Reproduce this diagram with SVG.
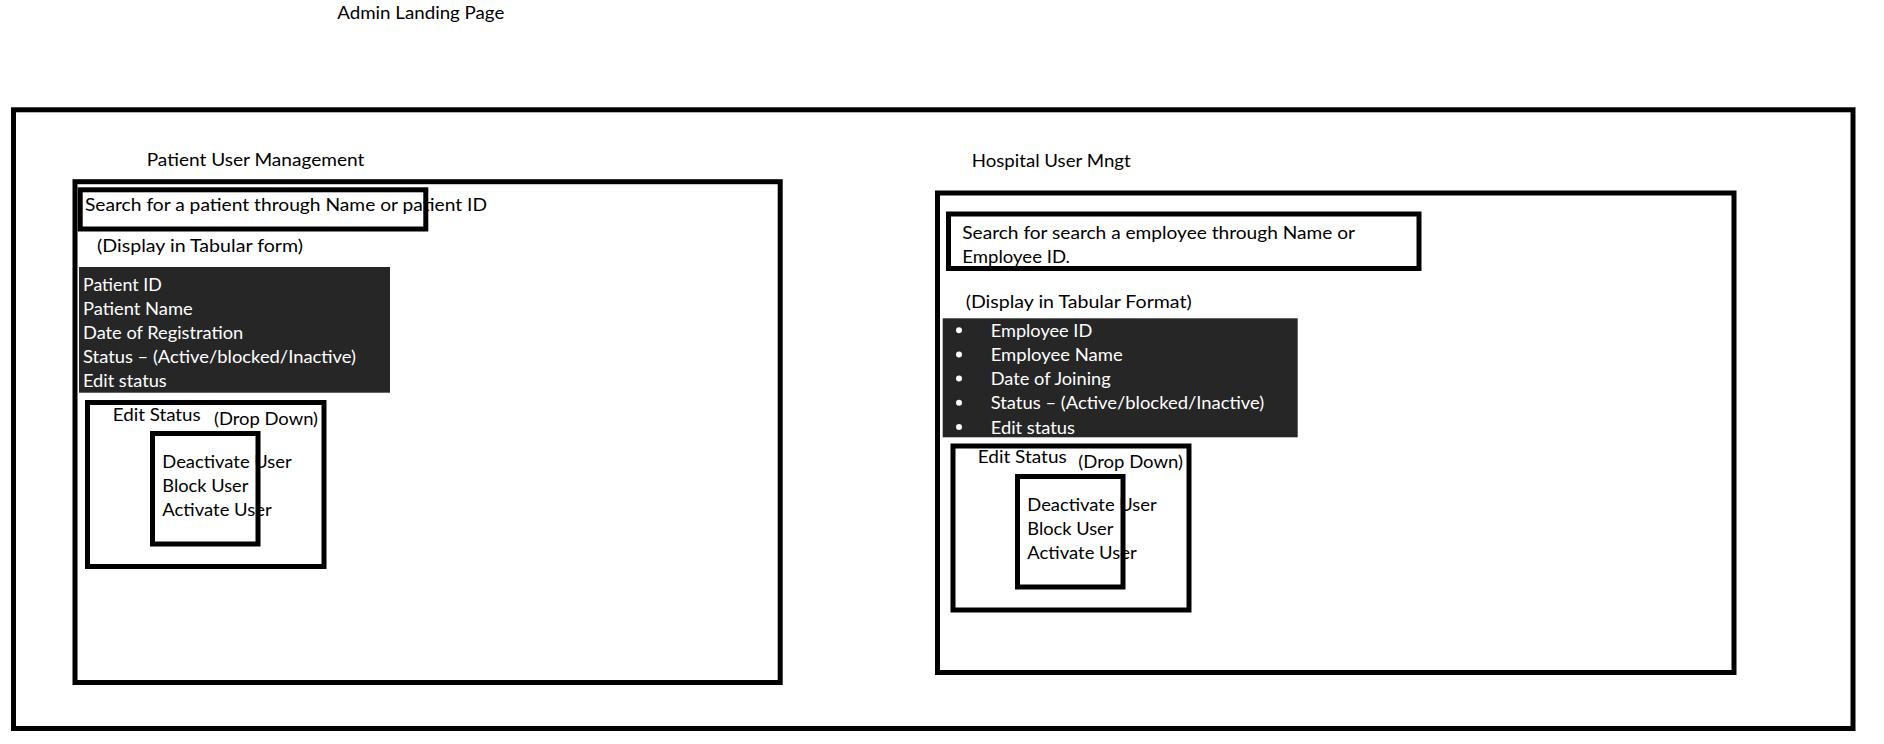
<svg xmlns="http://www.w3.org/2000/svg" width="1884" height="744" viewBox="0 0 1884 744">
<style>
.t{font-family:Lato,"Open Sans","Liberation Sans",sans-serif;font-size:17px;fill:#000}
.w{fill:#fff}
.box{fill:none;stroke:#000;stroke-width:5}
.dark{fill:#262626}
.bul{fill:#fff}
</style>
<rect x="0" y="0" width="1884" height="744" fill="#fff"/>
<g id="title">
<text class="t" x="337.3" y="19" textLength="167" lengthAdjust="spacingAndGlyphs">Admin Landing Page</text>
</g>
<g id="page">
<rect class="box" x="13.5" y="109.8" width="1839.5" height="618.7"/>
</g>
<g id="patient-user-management">
<text class="t" x="146.7" y="165.7" textLength="217.6" lengthAdjust="spacingAndGlyphs">Patient User Management</text>
<rect class="box" x="75" y="181.7" width="705.2" height="500.8"/>
<g id="patient-search">
<text class="t" x="85" y="210.7" textLength="402" lengthAdjust="spacingAndGlyphs">Search for a patient through Name or patient ID</text>
<rect class="box" x="80.2" y="189.8" width="345.6" height="39.2"/>
</g>
<g id="patient-table">
<text class="t" x="97" y="251.7" textLength="206" lengthAdjust="spacingAndGlyphs">(Display in Tabular form)</text>
<rect class="dark" x="79" y="267" width="311" height="125.7"/>
<text class="t w" x="83" y="290.7" textLength="78.7" lengthAdjust="spacingAndGlyphs">Patient ID</text>
<text class="t w" x="83" y="314.8" textLength="109.7" lengthAdjust="spacingAndGlyphs">Patient Name</text>
<text class="t w" x="83" y="339" textLength="160.3" lengthAdjust="spacingAndGlyphs">Date of Registration</text>
<text class="t w" x="83" y="363.3" textLength="273" lengthAdjust="spacingAndGlyphs">Status – (Active/blocked/Inactive)</text>
<text class="t w" x="83" y="387.4" textLength="83.7" lengthAdjust="spacingAndGlyphs">Edit status</text>
</g>
<g id="patient-edit-status">
<text class="t" x="112.7" y="420.7" textLength="88" lengthAdjust="spacingAndGlyphs">Edit Status</text>
<text class="t" x="214" y="425" textLength="104" lengthAdjust="spacingAndGlyphs">(Drop Down)</text>
<text class="t" x="162.3" y="467.7" textLength="129.4" lengthAdjust="spacingAndGlyphs">Deactivate User</text>
<text class="t" x="162.3" y="491.7" textLength="86" lengthAdjust="spacingAndGlyphs">Block User</text>
<text class="t" x="162.3" y="515.7" textLength="109.4" lengthAdjust="spacingAndGlyphs">Activate User</text>
<rect class="box" x="87.5" y="402.5" width="236.5" height="164"/>
<rect class="box" x="152.5" y="433.5" width="105.5" height="110.5"/>
</g>
</g>
<g id="hospital-user-mngt">
<text class="t" x="971.7" y="166.7" textLength="159" lengthAdjust="spacingAndGlyphs">Hospital User Mngt</text>
<rect class="box" x="937.5" y="193" width="796.5" height="479.5"/>
<g id="hospital-search">
<text class="t" x="962.3" y="239.3" textLength="392.7" lengthAdjust="spacingAndGlyphs">Search for search a employee through Name or</text>
<text class="t" x="962.3" y="262.7" textLength="107.7" lengthAdjust="spacingAndGlyphs">Employee ID.</text>
<rect class="box" x="948.5" y="214" width="470.5" height="54.5"/>
</g>
<g id="hospital-table">
<text class="t" x="965.7" y="308.3" textLength="226" lengthAdjust="spacingAndGlyphs">(Display in Tabular Format)</text>
<rect class="dark" x="942.7" y="318.3" width="355" height="119"/>
<circle class="bul" cx="959" cy="330.2" r="3"/>
<circle class="bul" cx="959" cy="354.4" r="3"/>
<circle class="bul" cx="959" cy="378.6" r="3"/>
<circle class="bul" cx="959" cy="402.8" r="3"/>
<circle class="bul" cx="959" cy="427" r="3"/>
<text class="t w" x="990.7" y="336.7" textLength="101.6" lengthAdjust="spacingAndGlyphs">Employee ID</text>
<text class="t w" x="990.7" y="360.9" textLength="132" lengthAdjust="spacingAndGlyphs">Employee Name</text>
<text class="t w" x="990.7" y="385.1" textLength="120" lengthAdjust="spacingAndGlyphs">Date of Joining</text>
<text class="t w" x="990.7" y="409.3" textLength="273.6" lengthAdjust="spacingAndGlyphs">Status – (Active/blocked/Inactive)</text>
<text class="t w" x="990.7" y="433.5" textLength="84.3" lengthAdjust="spacingAndGlyphs">Edit status</text>
</g>
<g id="hospital-edit-status">
<text class="t" x="977.7" y="463.3" textLength="89" lengthAdjust="spacingAndGlyphs">Edit Status</text>
<text class="t" x="1078.3" y="468.3" textLength="104.7" lengthAdjust="spacingAndGlyphs">(Drop Down)</text>
<text class="t" x="1027.3" y="511" textLength="129.4" lengthAdjust="spacingAndGlyphs">Deactivate User</text>
<text class="t" x="1027.3" y="535" textLength="86" lengthAdjust="spacingAndGlyphs">Block User</text>
<text class="t" x="1027.3" y="559" textLength="109.4" lengthAdjust="spacingAndGlyphs">Activate User</text>
<rect class="box" x="953" y="446" width="236" height="164"/>
<rect class="box" x="1017.5" y="476.5" width="105.5" height="110.5"/>
</g>
</g>
<g id="connectors"/>
</svg>
